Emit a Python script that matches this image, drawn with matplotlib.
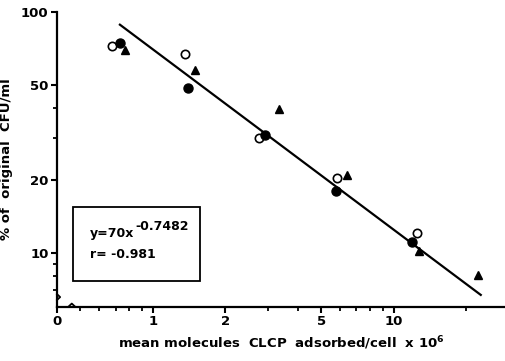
import matplotlib.pyplot as plt
from matplotlib.patches import Rectangle
import numpy as np

# values (log-log axes)
open_x = [0.68, 1.36, 2.76, 5.80, 12.5]
open_y = [72.0, 67.0, 30.1, 20.4, 12.1]
filled_x = [0.73, 1.40, 2.92, 5.78, 11.9]
filled_y = [74.6, 48.5, 30.9, 18.1, 11.1]
tri_x = [0.77, 1.50, 3.34, 6.38, 12.8, 22.5]
tri_y = [69.8, 57.7, 39.5, 21.1, 10.2, 8.1]

fit_coef = 70
fit_exp = "-0.7482"
fit_r = "-0.981"
fit_xrange = [0.73, 23]

x_major = [0.4, 1, 2, 5, 10]
x_major_labels = ["0", "1", "2", "5", "10"]
x_minor = [0.5, 0.6, 0.7, 0.8, 0.9, 3, 4, 6, 7, 8, 9, 20]
y_major = [10, 20, 50, 100]
y_major_labels = ["10", "20", "50", "100"]
y_minor = [7, 8, 9, 30, 40]

plt.rcParams['font.family'] = 'DejaVu Sans'
plt.rcParams['font.weight'] = 'bold'

fig = plt.figure(figsize=(5.06, 3.61), dpi=100)
ax = fig.add_axes([57 / 506, 54.5 / 361, 448 / 506, 294.5 / 361])
ax.set_xscale('log')
ax.set_yscale('log')
ax.set_xlim(0.4, 29)
ax.set_ylim(6, 100)

# regression line
fx = np.array(fit_xrange)
ax.plot(fx, fit_coef * fx ** float(fit_exp), color='black', lw=1.6, zorder=2)

ax.plot(open_x, open_y, 'o', ms=6, mfc='white', mec='black', mew=1.2, zorder=3)
ax.plot(filled_x, filled_y, 'o', ms=6.5, color='black', zorder=3)
ax.plot(tri_x, tri_y, '^', ms=5.5, color='black', zorder=3)

for s in ['top', 'right']:
    ax.spines[s].set_visible(False)
for s in ['left', 'bottom']:
    ax.spines[s].set_linewidth(1.6)

# small axis-break kinks near the origin
ax.plot([0.026, 0.033, 0.040], [0.0, 0.010, 0.0],
        transform=ax.transAxes, color='black', lw=1.3, clip_on=False)
ax.plot([0.0, 0.007, 0.0], [0.022, 0.032, 0.042],
        transform=ax.transAxes, color='black', lw=1.3, clip_on=False)

ax.set_xticks(x_major)
ax.set_xticklabels(x_major_labels)
ax.set_xticks(x_minor, minor=True)
ax.set_xticklabels([], minor=True)
ax.set_yticks(y_major)
ax.set_yticklabels(y_major_labels)
ax.set_yticks(y_minor, minor=True)
ax.set_yticklabels([], minor=True)
ax.tick_params(which='major', direction='out', length=4, width=1.5, labelsize=9.5, pad=2)
ax.tick_params(which='minor', direction='out', length=3, width=1.3)

ax.set_xlabel("mean molecules  CLCP  adsorbed/cell  x 10$^{\\mathbf{6}}$",
              fontsize=9.5, fontweight='bold', labelpad=5)
ax.set_ylabel("% of  original  CFU/ml", fontsize=9.5, fontweight='bold', labelpad=6)

# equation box
ax.add_patch(Rectangle((0.036, 0.087), 0.283, 0.251, transform=ax.transAxes,
                       fill=False, lw=1.3, ec='black', zorder=4))
eq = ax.text(0.074, 0.235, "y=%dx" % fit_coef, transform=ax.transAxes,
             fontsize=9, fontweight='bold')
ax.annotate(fit_exp, xy=(1, 0.55), xycoords=eq, xytext=(0.5, 0),
            textcoords='offset points', fontsize=9, fontweight='bold', va='bottom')
ax.text(0.074, 0.165, "r= " + fit_r, transform=ax.transAxes,
        fontsize=9, fontweight='bold')

fig.savefig("out.png", dpi=100)
